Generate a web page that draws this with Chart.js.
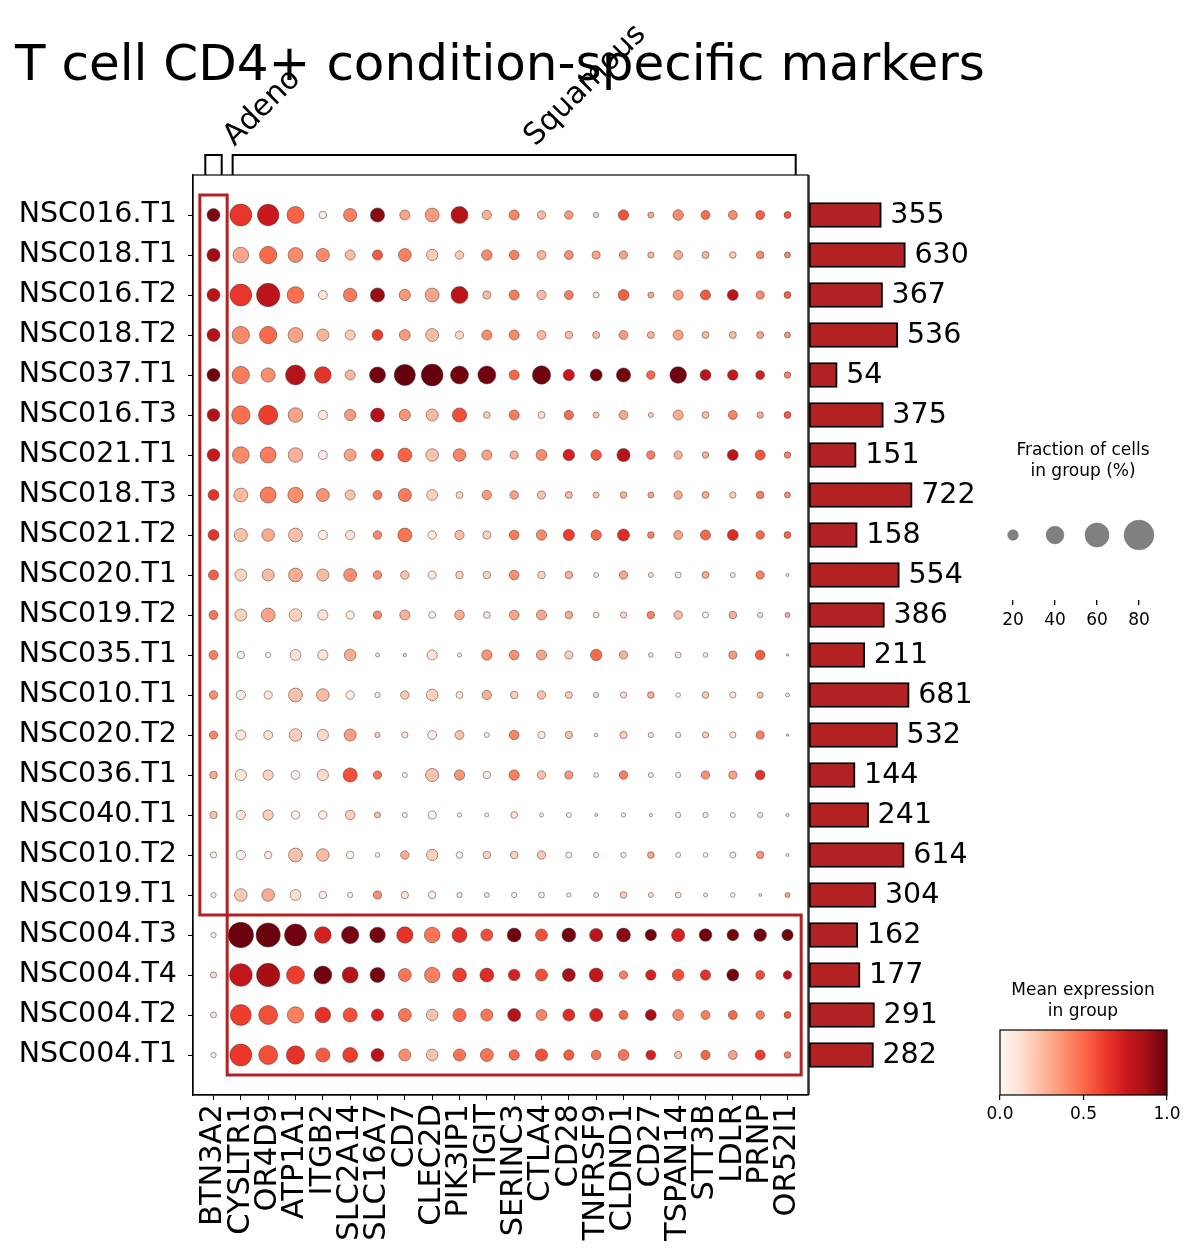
<!DOCTYPE html>
<html>
<head>
<meta charset="utf-8">
<script src="https://cdn.jsdelivr.net/npm/chart.js@4.4.1/dist/chart.umd.min.js"></script>
<style>
  body { margin: 0; background: #fff; }
  #wrap { position: relative; width: 1195px; height: 1254px; overflow: hidden; }
  canvas { position: absolute; }
</style>
</head>
<body>
<div id="wrap">
  <canvas id="dots" width="1195" height="1254" style="left:0;top:0;width:1195px;height:1254px"></canvas>
  <canvas id="bars" width="260" height="1254" style="left:790px;top:0;width:260px;height:1254px"></canvas>
  <canvas id="sizeLegend" width="210" height="210" style="left:975px;top:430px;width:210px;height:210px"></canvas>
  <canvas id="colorLegend" width="210" height="160" style="left:975px;top:970px;width:210px;height:160px"></canvas>
</div>
<script>
const genes = ['BTN3A2', 'CYSLTR1', 'OR4D9', 'ATP1A1', 'ITGB2', 'SLC2A14', 'SLC16A7', 'CD7', 'CLEC2D', 'PIK3IP1', 'TIGIT',
  'SERINC3', 'CTLA4', 'CD28', 'TNFRSF9', 'CLDND1', 'CD27', 'TSPAN14', 'STT3B', 'LDLR', 'PRNP', 'OR52I1'];
const samples = ['NSC016.T1', 'NSC018.T1', 'NSC016.T2', 'NSC018.T2', 'NSC037.T1', 'NSC016.T3', 'NSC021.T1', 'NSC018.T3',
  'NSC021.T2', 'NSC020.T1', 'NSC019.T2', 'NSC035.T1', 'NSC010.T1', 'NSC020.T2', 'NSC036.T1', 'NSC040.T1', 'NSC010.T2',
  'NSC019.T1', 'NSC004.T3', 'NSC004.T4', 'NSC004.T2', 'NSC004.T1'];
const totals = [355, 630, 367, 536, 54, 375, 151, 722, 158, 554, 386, 211, 681, 532, 144, 241, 614, 304, 162, 177, 291, 282];

// groups of genes (column index ranges) and highlighted blocks
const geneGroups = [['Adeno', 0, 0], ['Squamous', 1, 21]];
const highlightBoxes = [[0, 0, 0, 17], [1, 21, 18, 21]]; // colFrom, colTo, rowFrom, rowTo

// fraction of cells in group (%), one row per sample, columns follow genes
const fractionPct = [
  [26.5, 53.6, 52, 38, 13, 27, 30, 19, 29, 38, 17, 19, 15, 15, 8, 19.5, 9.5, 20, 16, 16, 16, 11.6],
  [27, 34, 39, 32, 27, 19, 19, 26, 22, 15, 20, 18, 16, 16, 14, 14, 10, 16, 12, 11, 13, 9.5],
  [26.5, 53, 58, 37, 16, 28, 30, 22, 29, 38, 14, 19, 17, 16, 9.5, 21, 9.5, 19, 19, 21, 14, 11.6],
  [26.5, 39, 39, 32, 24, 19, 21, 21, 26.5, 14, 19, 19, 16, 13, 11.6, 16, 11.6, 19, 11.6, 11.6, 11.6, 9.5],
  [26.5, 39, 30, 47, 37, 19, 35, 51, 53, 41, 41, 19, 42, 22, 24, 30, 15, 37, 21, 20, 16, 10.5],
  [25.5, 42, 45, 31, 17, 22, 29, 22, 24, 30, 11, 19, 11.6, 17, 9.5, 16, 7.4, 19, 11.6, 16, 10.5, 11.6],
  [25.5, 37, 35, 31, 16, 24, 24, 29, 25.5, 25.5, 19, 14, 21, 23, 20, 27, 15, 14.5, 10.5, 21, 19, 10.5],
  [21, 29, 35, 33, 26.5, 19, 16, 27, 21, 11.6, 17, 15, 14, 11.6, 9.5, 11, 9.5, 14.5, 11.6, 10.5, 13, 9.5],
  [21, 27, 25.5, 29, 17, 17, 15, 29, 15, 17, 14, 18, 19.5, 22, 19.5, 24, 11, 16, 19, 21, 15, 11.6],
  [19, 24, 24, 29, 24, 26.5, 15, 15, 14.5, 13, 13, 18, 13, 13, 7.4, 15, 7.4, 9.5, 11.6, 7.4, 14.5, 3.8],
  [16, 24, 29, 25.5, 19.5, 14.5, 14, 19, 11.6, 18, 11, 18, 19, 13, 9, 10, 12.5, 15, 9.5, 13, 8, 7.4],
  [16, 12.5, 8, 21, 19.5, 23, 5.5, 4.2, 19, 6, 19.5, 18, 19, 14, 22, 14, 6.8, 9.5, 6.8, 14, 18, 2.6],
  [15, 17, 14.5, 29, 25.5, 15, 8, 15, 23, 11.6, 17, 13, 15, 11.6, 8, 10, 11, 6.8, 11, 10, 9.5, 5.5],
  [14.5, 19, 16, 25.5, 22, 24, 8, 10, 16, 16, 7.4, 18, 12.5, 12.5, 5, 12.5, 8, 8, 10, 10, 14, 3],
  [13, 22, 19, 16, 22, 30, 14.5, 7.4, 27, 19.5, 13, 19.5, 15, 14, 6.8, 15, 7.4, 8, 14, 14, 18, 0],
  [12.5, 17, 19.5, 15, 15, 18, 9.5, 7.4, 14, 6, 5.5, 11, 5.5, 7.4, 3.6, 6, 4.2, 8, 8, 7.4, 8, 4.2],
  [10, 17, 12.5, 29, 25.5, 13, 6.8, 15, 22, 11, 13, 13, 15, 9.5, 8, 8, 11, 7.4, 6.8, 9.5, 12.5, 3.6],
  [8, 25.5, 25.5, 21, 13, 8, 14, 12.5, 13, 8, 7.4, 8, 9, 6, 7.4, 11, 7.4, 9, 5.5, 6.8, 3.6, 7.4],
  [8, 65, 61, 53.5, 37, 39, 34, 36, 34, 32, 24, 29, 24, 29, 27, 29, 22, 27, 25.5, 23, 25.5, 22],
  [10, 56, 58, 41, 41, 35, 32, 26.5, 33, 29, 29, 23, 24, 26.5, 29, 14.5, 19.5, 23, 19.5, 24, 16, 15],
  [9.5, 50, 44, 36, 34, 30, 24.5, 26.5, 23, 27, 24, 26.5, 21, 24, 26.5, 16, 21, 21, 16, 16, 15, 11.6],
  [8, 53.5, 44, 42, 30, 32, 26.5, 24, 23, 24.5, 26.5, 19.5, 24.5, 19.5, 18, 21, 18, 12.5, 17, 16, 19, 11]
];

// mean expression in group (0..1)
const meanExpr = [
  [0.95, 0.65, 0.75, 0.52, 0.05, 0.43, 0.93, 0.33, 0.35, 0.82, 0.28, 0.42, 0.26, 0.35, 0.17, 0.56, 0.30, 0.40, 0.50, 0.40, 0.53, 0.55],
  [0.88, 0.32, 0.50, 0.40, 0.40, 0.25, 0.55, 0.43, 0.20, 0.20, 0.40, 0.43, 0.27, 0.38, 0.33, 0.33, 0.27, 0.30, 0.27, 0.21, 0.40, 0.42],
  [0.80, 0.64, 0.80, 0.48, 0.10, 0.45, 0.90, 0.36, 0.32, 0.80, 0.26, 0.45, 0.25, 0.44, 0.13, 0.53, 0.30, 0.35, 0.55, 0.80, 0.40, 0.52],
  [0.82, 0.40, 0.50, 0.33, 0.27, 0.20, 0.62, 0.35, 0.25, 0.17, 0.40, 0.41, 0.26, 0.24, 0.25, 0.35, 0.28, 0.33, 0.26, 0.25, 0.32, 0.37],
  [0.97, 0.44, 0.39, 0.82, 0.66, 0.26, 0.98, 1.00, 1.00, 0.98, 0.98, 0.51, 0.98, 0.76, 0.98, 0.97, 0.51, 0.98, 0.80, 0.76, 0.72, 0.43],
  [0.82, 0.48, 0.62, 0.33, 0.08, 0.35, 0.82, 0.37, 0.26, 0.58, 0.20, 0.44, 0.13, 0.50, 0.21, 0.32, 0.20, 0.30, 0.25, 0.42, 0.30, 0.54],
  [0.75, 0.40, 0.44, 0.28, 0.06, 0.33, 0.62, 0.52, 0.23, 0.42, 0.33, 0.28, 0.40, 0.72, 0.55, 0.82, 0.44, 0.28, 0.28, 0.80, 0.56, 0.43],
  [0.66, 0.26, 0.44, 0.39, 0.38, 0.23, 0.44, 0.45, 0.18, 0.16, 0.36, 0.33, 0.23, 0.25, 0.21, 0.27, 0.32, 0.30, 0.30, 0.18, 0.44, 0.40],
  [0.66, 0.23, 0.30, 0.24, 0.06, 0.12, 0.40, 0.47, 0.07, 0.25, 0.18, 0.45, 0.40, 0.62, 0.51, 0.68, 0.43, 0.32, 0.51, 0.68, 0.51, 0.50],
  [0.53, 0.17, 0.25, 0.30, 0.25, 0.39, 0.39, 0.23, 0.10, 0.19, 0.17, 0.38, 0.17, 0.28, 0.08, 0.32, 0.15, 0.07, 0.30, 0.06, 0.43, 0.13],
  [0.47, 0.18, 0.32, 0.17, 0.12, 0.07, 0.41, 0.28, 0.03, 0.30, 0.10, 0.32, 0.32, 0.30, 0.12, 0.15, 0.42, 0.25, 0.02, 0.28, 0.12, 0.32],
  [0.43, 0.04, 0.03, 0.11, 0.11, 0.30, 0.10, 0.10, 0.11, 0.08, 0.37, 0.38, 0.33, 0.19, 0.50, 0.28, 0.10, 0.08, 0.08, 0.36, 0.54, 0.17],
  [0.39, 0.07, 0.09, 0.23, 0.25, 0.06, 0.07, 0.21, 0.18, 0.06, 0.28, 0.19, 0.23, 0.19, 0.15, 0.13, 0.30, 0.03, 0.21, 0.11, 0.23, 0.07],
  [0.42, 0.10, 0.13, 0.19, 0.15, 0.34, 0.19, 0.11, 0.06, 0.23, 0.03, 0.42, 0.08, 0.23, 0.07, 0.19, 0.12, 0.07, 0.20, 0.11, 0.43, 0.17],
  [0.30, 0.10, 0.17, 0.04, 0.15, 0.57, 0.47, 0.03, 0.23, 0.37, 0.07, 0.43, 0.23, 0.36, 0.07, 0.44, 0.08, 0.04, 0.38, 0.33, 0.66, 0.00],
  [0.23, 0.10, 0.19, 0.03, 0.05, 0.19, 0.23, 0.04, 0.03, 0.03, 0.03, 0.11, 0.03, 0.03, 0.12, 0.01, 0.07, 0.03, 0.07, 0.01, 0.10, 0.08],
  [0.04, 0.04, 0.04, 0.23, 0.25, 0.02, 0.03, 0.30, 0.18, 0.03, 0.17, 0.17, 0.21, 0.04, 0.07, 0.03, 0.32, 0.02, 0.02, 0.02, 0.37, 0.06],
  [0.04, 0.21, 0.30, 0.13, 0.04, 0.03, 0.39, 0.11, 0.04, 0.10, 0.10, 0.02, 0.08, 0.03, 0.07, 0.20, 0.15, 0.10, 0.04, 0.02, 0.12, 0.33],
  [0.03, 0.99, 0.99, 0.98, 0.72, 0.97, 0.97, 0.66, 0.47, 0.66, 0.58, 0.98, 0.57, 0.98, 0.80, 0.93, 0.98, 0.72, 0.98, 0.97, 0.98, 0.98],
  [0.15, 0.78, 0.87, 0.62, 0.98, 0.82, 0.97, 0.47, 0.43, 0.62, 0.68, 0.72, 0.57, 0.87, 0.78, 0.43, 0.72, 0.57, 0.66, 0.97, 0.58, 0.80],
  [0.11, 0.62, 0.57, 0.43, 0.66, 0.57, 0.72, 0.47, 0.23, 0.50, 0.47, 0.82, 0.42, 0.68, 0.72, 0.51, 0.87, 0.41, 0.44, 0.50, 0.44, 0.54],
  [0.03, 0.64, 0.57, 0.66, 0.54, 0.62, 0.80, 0.39, 0.23, 0.47, 0.47, 0.50, 0.57, 0.54, 0.47, 0.47, 0.72, 0.23, 0.51, 0.33, 0.62, 0.43]
];

const sizeLegendPct = [20, 40, 60, 80];
const colorTicks = [0, 0.5, 1];

Chart.defaults.font.family = 'DejaVu Sans';
Chart.defaults.color = '#000';

// matplotlib "Reds"
const redsStops = ['#fff5f0', '#fee0d2', '#fcbba1', '#fc9272', '#fb6a4a', '#ef3b2c', '#cb181d', '#a50f15', '#67000d'];
function hexRgb(h) { return [1, 3, 5].map(i => parseInt(h.substr(i, 2), 16)); }
function reds(t) {
  t = Math.max(0, Math.min(1, t));
  const pos = t * (redsStops.length - 1);
  const i = Math.min(redsStops.length - 2, Math.floor(pos));
  const f = pos - i;
  const a = hexRgb(redsStops[i]), b = hexRgb(redsStops[i + 1]);
  const c = a.map((v, k) => Math.round(v + (b[k] - v) * f));
  return 'rgb(' + c.join(',') + ')';
}
// dot area grows like fraction^1.5 (scanpy style)
function dotRadius(pct) { return pct <= 0 ? 0 : 0.555 * Math.pow(pct, 0.75); }

function indexTicks(n) {
  return function (scale) { scale.ticks = Array.from({ length: n }, (_, i) => ({ value: i })); };
}

const points = [];
samples.forEach((s, r) => {
  genes.forEach((g, c) => {
    points.push({ x: c, y: r, frac: fractionPct[r][c], mean: meanExpr[r][c] });
  });
});

const decor = {
  id: 'decor',
  afterDraw(chart) {
    const { ctx, chartArea: a, scales: { x, y } } = chart;
    ctx.save();
    // frame
    ctx.strokeStyle = '#000';
    ctx.lineWidth = 1.2;
    ctx.strokeRect(a.left, a.top, a.right - a.left, a.bottom - a.top);

    // highlight boxes
    ctx.strokeStyle = '#b22222';
    ctx.lineWidth = 3;
    highlightBoxes.forEach(([c0, c1, r0, r1]) => {
      const x0 = x.getPixelForValue(c0 - 0.5), x1 = x.getPixelForValue(c1 + 0.5);
      const y0 = y.getPixelForValue(r0 - 0.5), y1 = y.getPixelForValue(r1 + 0.5);
      ctx.strokeRect(x0, y0, x1 - x0, y1 - y0);
    });

    // group brackets + labels
    ctx.strokeStyle = '#000';
    ctx.lineWidth = 2;
    const top = 155;
    geneGroups.forEach(([name, c0, c1]) => {
      const x0 = x.getPixelForValue(c0 - 0.3), x1 = x.getPixelForValue(c1 + 0.3);
      ctx.beginPath();
      ctx.moveTo(x0, a.top);
      ctx.lineTo(x0, top);
      ctx.lineTo(x1, top);
      ctx.lineTo(x1, a.top);
      ctx.stroke();
      ctx.save();
      ctx.translate((x0 + x1) / 2 + 21, top - 8);
      ctx.rotate(-Math.PI / 4);
      ctx.fillStyle = '#000';
      ctx.font = '30px "DejaVu Sans"';
      ctx.textAlign = 'left';
      ctx.textBaseline = 'alphabetic';
      ctx.fillText(name, 0, 0);
      ctx.restore();
    });

    // title
    ctx.fillStyle = '#000';
    ctx.font = '50px "DejaVu Sans"';
    ctx.textAlign = 'left';
    ctx.textBaseline = 'alphabetic';
    ctx.fillText('T cell CD4+ condition-specific markers', 15, 80);
    ctx.restore();
  }
};

new Chart(document.getElementById('dots'), {
  type: 'bubble',
  data: {
    datasets: [{
      data: points,
      backgroundColor: ctx => reds(ctx.raw.mean),
      borderColor: 'rgba(60,60,60,0.85)',
      borderWidth: 0.6,
      radius: ctx => dotRadius(ctx.raw.frac)
    }]
  },
  options: {
    responsive: false,
    animation: false,
    layout: { padding: { left: 8, right: 387, top: 175, bottom: 0 } },
    plugins: { legend: { display: false }, tooltip: { enabled: false } },
    scales: {
      x: {
        type: 'linear', min: -0.75, max: 21.75,
        afterBuildTicks: indexTicks(genes.length),
        afterFit: s => { s.height = 159; },
        ticks: { callback: v => genes[v], font: { size: 30.5 }, color: '#000', minRotation: 90, maxRotation: 90, padding: 4, autoSkip: false },
        grid: { drawOnChartArea: false, tickLength: 5, color: '#000' },
        border: { color: '#000', width: 1.2 }
      },
      y: {
        type: 'linear', min: -1, max: 22, reverse: true,
        afterBuildTicks: indexTicks(samples.length),
        afterFit: s => { s.width = 185; },
        ticks: { callback: v => samples[v], font: { size: 28.5 }, color: '#000', padding: 11, autoSkip: false },
        grid: { drawOnChartArea: false, tickLength: 5, color: '#000' },
        border: { color: '#000', width: 1.2 }
      }
    }
  },
  plugins: [decor]
});

// square-root scale for the totals bars
class SqrtScale extends Chart.LinearScale {
  getPixelForValue(value) {
    const lo = Math.sqrt(Math.max(0, this.min)), hi = Math.sqrt(this.max);
    return this.getPixelForDecimal((Math.sqrt(Math.max(0, value)) - lo) / (hi - lo));
  }
  getValueForPixel(pixel) {
    const lo = Math.sqrt(Math.max(0, this.min)), hi = Math.sqrt(this.max);
    const v = lo + this.getDecimalForPixel(pixel) * (hi - lo);
    return v * v;
  }
}
SqrtScale.id = 'sqrt';
SqrtScale.defaults = Chart.LinearScale.defaults;
Chart.register(SqrtScale);

const barLabels = {
  id: 'barLabels',
  afterDatasetsDraw(chart) {
    const { ctx, chartArea: a } = chart;
    ctx.save();
    ctx.strokeStyle = '#000';
    ctx.lineWidth = 1.2;
    ctx.beginPath();
    ctx.moveTo(a.left, a.top);
    ctx.lineTo(a.left, a.bottom);
    ctx.stroke();
    ctx.fillStyle = '#000';
    ctx.font = '28.5px "DejaVu Sans"';
    ctx.textAlign = 'left';
    ctx.textBaseline = 'middle';
    chart.getDatasetMeta(0).data.forEach((bar, i) => {
      ctx.fillText(String(totals[i]), bar.x + 9, bar.y + 1);
    });
    ctx.restore();
  }
};

new Chart(document.getElementById('bars'), {
  type: 'bar',
  data: {
    datasets: [{
      data: totals.map((v, i) => ({ x: v, y: i })),
      backgroundColor: '#b22222',
      borderColor: '#000',
      borderWidth: 2,
      borderSkipped: false,
      barThickness: 25
    }]
  },
  options: {
    indexAxis: 'y',
    responsive: false,
    animation: false,
    layout: { padding: { left: 19, right: 50, top: 175, bottom: 159 } },
    plugins: { legend: { display: false }, tooltip: { enabled: false } },
    scales: {
      x: { type: 'sqrt', min: 0, max: 2474, display: false, offset: false },
      y: { type: 'linear', min: -1, max: 22, reverse: true, display: false, offset: false }
    }
  },
  plugins: [barLabels]
});

// size legend
const sizeTitle = {
  id: 'sizeTitle',
  afterDraw(chart) {
    const ctx = chart.ctx;
    ctx.save();
    ctx.fillStyle = '#000';
    ctx.font = '17px "DejaVu Sans"';
    ctx.textAlign = 'center';
    ctx.textBaseline = 'middle';
    ctx.fillText('Fraction of cells', 108, 21);
    ctx.fillText('in group (%)', 108, 42);
    ctx.restore();
  }
};

new Chart(document.getElementById('sizeLegend'), {
  type: 'bubble',
  data: {
    datasets: [{
      data: sizeLegendPct.map(p => ({ x: p, y: 0.5, frac: p })),
      backgroundColor: '#808080',
      borderColor: '#6e6e6e',
      borderWidth: 0.6,
      radius: ctx => dotRadius(ctx.raw.frac)
    }]
  },
  options: {
    responsive: false,
    animation: false,
    layout: { padding: { left: 17, right: 25, top: 40, bottom: 0 } },
    plugins: { legend: { display: false }, tooltip: { enabled: false } },
    scales: {
      x: {
        type: 'linear', min: 10, max: 90,
        afterBuildTicks: s => { s.ticks = sizeLegendPct.map(v => ({ value: v })); },
        afterFit: s => { s.height = 40; },
        ticks: { font: { size: 17 }, color: '#000', padding: 5 },
        grid: { drawOnChartArea: false, tickLength: 5, color: '#000', lineWidth: 1.3 },
        border: { display: false }
      },
      y: { min: 0, max: 1, display: false }
    }
  },
  plugins: [sizeTitle]
});

// colour bar
const colorBar = {
  id: 'colorBar',
  beforeDatasetsDraw(chart) {
    const { ctx, chartArea: a } = chart;
    ctx.save();
    const g = ctx.createLinearGradient(a.left, 0, a.right, 0);
    redsStops.forEach((c, i) => g.addColorStop(i / (redsStops.length - 1), c));
    ctx.fillStyle = g;
    ctx.fillRect(a.left, a.top, a.right - a.left, a.bottom - a.top);
    ctx.strokeStyle = '#000';
    ctx.lineWidth = 1.2;
    ctx.strokeRect(a.left, a.top, a.right - a.left, a.bottom - a.top);
    ctx.fillStyle = '#000';
    ctx.font = '17px "DejaVu Sans"';
    ctx.textAlign = 'center';
    ctx.textBaseline = 'middle';
    ctx.fillText('Mean expression', 108, 21);
    ctx.fillText('in group', 108, 42);
    ctx.restore();
  }
};

new Chart(document.getElementById('colorLegend'), {
  type: 'scatter',
  data: { datasets: [{ data: [] }] },
  options: {
    responsive: false,
    animation: false,
    layout: { padding: { left: 25, right: 18, top: 60, bottom: 0 } },
    plugins: { legend: { display: false }, tooltip: { enabled: false } },
    scales: {
      x: {
        type: 'linear', min: 0, max: 1,
        afterBuildTicks: s => { s.ticks = colorTicks.map(v => ({ value: v })); },
        afterFit: s => { s.height = 35; },
        ticks: { callback: v => v.toFixed(1), font: { size: 17 }, color: '#000', padding: 4 },
        grid: { drawOnChartArea: false, tickLength: 5, color: '#000', lineWidth: 1.2 },
        border: { display: false }
      },
      y: { min: 0, max: 1, display: false }
    }
  },
  plugins: [colorBar]
});
</script>
</body>
</html>
